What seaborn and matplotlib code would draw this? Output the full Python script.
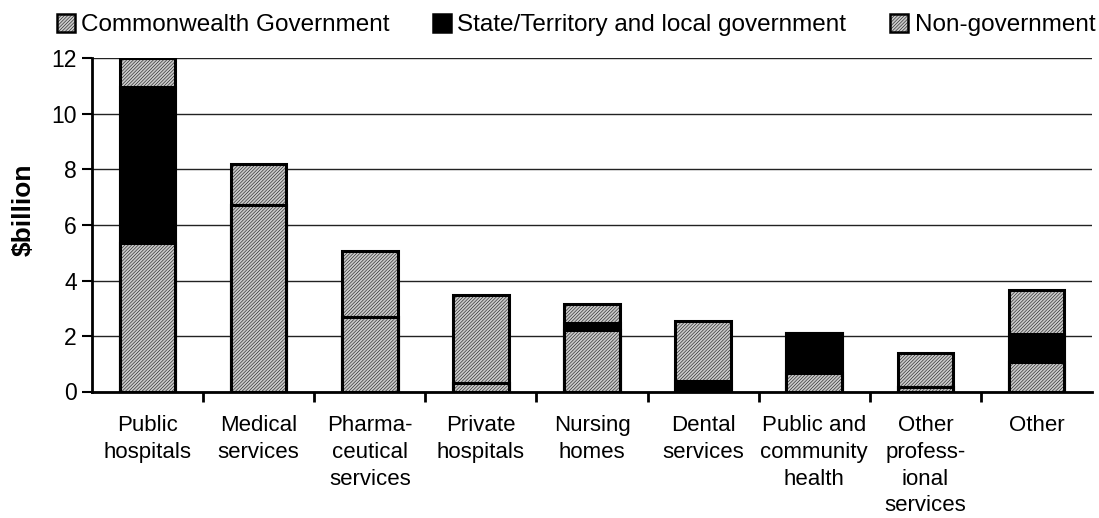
import matplotlib
matplotlib.use("Agg")
import matplotlib.pyplot as plt
import matplotlib.patches as mpatches
from matplotlib.ticker import FixedLocator
import seaborn as sns
import pandas as pd
import numpy as np

categories = ["Public\nhospitals", "Medical\nservices", "Pharma-\nceutical\nservices",
              "Private\nhospitals", "Nursing\nhomes", "Dental\nservices",
              "Public and\ncommunity\nhealth", "Other\nprofess-\nional\nservices", "Other"]
commonwealth = [5.36, 6.73, 2.70, 0.32, 2.22, 0.00, 0.66, 0.17, 1.05]
state_local = [5.61, 0.00, 0.00, 0.00, 0.24, 0.38, 1.44, 0.00, 1.01]
non_government = [1.03, 1.47, 2.35, 3.16, 0.69, 2.17, 0.00, 1.21, 1.58]
series_names = ["Commonwealth Government", "State/Territory and local government", "Non-government"]

sns.set_style("white")
plt.rcParams["font.family"] = ["Liberation Sans", "DejaVu Sans"]
plt.rcParams["hatch.color"] = "#a9a9a9"
plt.rcParams["hatch.linewidth"] = 0.35
for key in ["text.color", "axes.labelcolor", "xtick.color", "ytick.color"]:
    plt.rcParams[key] = "black"

df = pd.DataFrame({"category": categories,
                   "comm": commonwealth,
                   "state": state_local,
                   "nongov": non_government})
df["lvl1"] = df["comm"]
df["lvl2"] = df["comm"] + df["state"]
df["lvl3"] = df["lvl2"] + df["nongov"]

fig = plt.figure(figsize=(10.99, 5.18), dpi=100)
ax = fig.add_axes([92 / 1099, 1 - 391.5 / 518, 1000 / 1099, (391.5 - 58.5) / 518])

gray = "#c9c9c9"
hatch = "//////////"
layers = [("lvl3", gray, hatch), ("lvl2", "black", None), ("lvl1", gray, hatch)]
for col, color, h in layers:
    sns.barplot(data=df, x="category", y=col, color=color, width=0.5,
                edgecolor="black", linewidth=2.2, hatch=h, saturation=1,
                ax=ax, zorder=3)

ax.set_xlim(-0.5, len(categories) - 0.5)
ax.set_ylim(0, 12)
ax.set_yticks(np.arange(0, 13, 2))
ax.yaxis.grid(True, color="#222222", linewidth=1.0, zorder=0)
ax.set_axisbelow(True)
ax.set_xlabel("")
ax.set_ylabel("$billion", fontsize=19, fontweight="bold")
ax.yaxis.set_label_coords(-0.056, 0.545)

for s in ["top", "right"]:
    ax.spines[s].set_visible(False)
for s in ["left", "bottom"]:
    ax.spines[s].set_color("black")
    ax.spines[s].set_linewidth(2)

ax.tick_params(axis="y", which="major", direction="out", length=7, width=1.5,
               labelsize=16.5, left=True, pad=4)
ax.tick_params(axis="x", which="major", length=0, labelsize=16, pad=17)
for lbl in ax.get_xticklabels():
    lbl.set_linespacing(1.36)
ax.xaxis.set_minor_locator(FixedLocator(np.arange(0.5, len(categories) - 0.5, 1.0)))
ax.tick_params(axis="x", which="minor", direction="out", length=7, width=2, bottom=True)

handles = [mpatches.Patch(facecolor=gray, edgecolor="black", hatch=hatch, linewidth=1.8),
           mpatches.Patch(facecolor="black", edgecolor="black", linewidth=1.8),
           mpatches.Patch(facecolor=gray, edgecolor="black", hatch=hatch, linewidth=1.8)]
fig.legend(handles, series_names, loc="upper center", bbox_to_anchor=(0.524, 1.015),
           ncol=3, frameon=False, fontsize=17.5, handlelength=0.75, handleheight=0.75,
           handletextpad=0.25, columnspacing=1.8)

fig.savefig("out.png", dpi=100)
